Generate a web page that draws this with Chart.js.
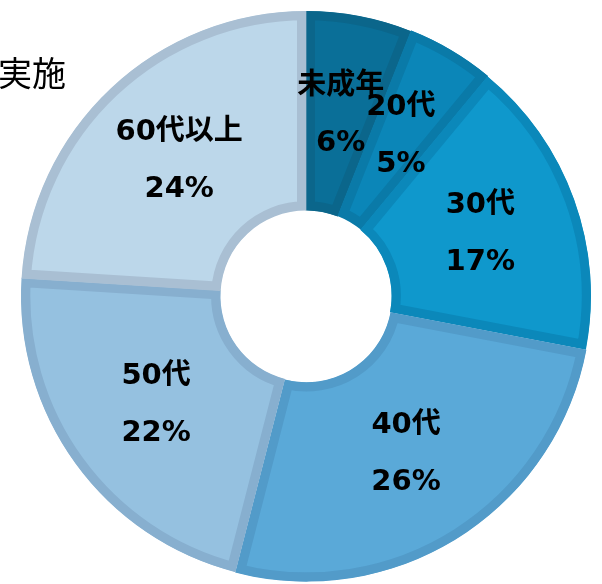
<!DOCTYPE html>
<html>
<head>
<meta charset="utf-8">
<script src="https://cdn.jsdelivr.net/npm/chart.js@4"></script>
<style>
  body { margin: 0; background: #fff; }
  #wrap { position: relative; width: 602px; height: 584px; overflow: hidden; }
  #title { position: absolute; left: -2px; top: 52px; font: 34px/40px "Noto Sans CJK JP", sans-serif; color: #000; white-space: nowrap; }
</style>
</head>
<body>
<div id="wrap">
  <canvas id="myChart" width="602" height="584"></canvas>
  <div id="title">実施</div>
</div>
<script>
let ageGroups = ['未成年', '20代', '30代', '40代', '50代', '60代以上'];
let shares = [6, 5, 17, 26, 22, 24];
let fillColors = ['#0a6f98', '#0b86b8', '#0f98cc', '#5aa9d8', '#95c1e0', '#bcd7ea'];
let edgeColors = ['#0b668b', '#0a7aa8', '#0b88ba', '#529bc9', '#87afcf', '#a9bfd3'];

// draws "label / xx%" in the middle of each slice
let sliceLabels = {
    id: 'sliceLabels',
    afterDatasetsDraw(chart) {
        let ctx = chart.ctx;
        let meta = chart.getDatasetMeta(0);
        ctx.save();
        ctx.fillStyle = '#000';
        ctx.textAlign = 'center';
        ctx.textBaseline = 'middle';
        ctx.font = 'bold 29px "DejaVu Sans", "Noto Sans CJK JP", sans-serif';
        meta.data.forEach((arc, i) => {
            let p = arc.tooltipPosition();
            ctx.fillText(ageGroups[i], p.x, p.y - 28);
            ctx.fillText(shares[i] + '%', p.x, p.y + 29);
        });
        ctx.restore();
    }
};

let myChart = document.getElementById('myChart').getContext('2d');

let ageChart = new Chart(myChart, {
    type: 'doughnut',
    data: {
        labels: ageGroups,
        datasets: [{
            data: shares,
            backgroundColor: fillColors,
            borderColor: edgeColors,
            borderWidth: 9,
            borderAlign: 'inner',
            offset: [0, 2, 0, 3, 0, 0]
        }]
    },
    options: {
        responsive: false,
        animation: false,
        radius: 285,
        cutout: 86,
        layout: { padding: { left: 10, right: 0, top: 8, bottom: 0 } },
        plugins: {
            legend: { display: false },
            tooltip: { enabled: false }
        },
        events: []
    },
    plugins: [sliceLabels]
});
</script>
</body>
</html>
